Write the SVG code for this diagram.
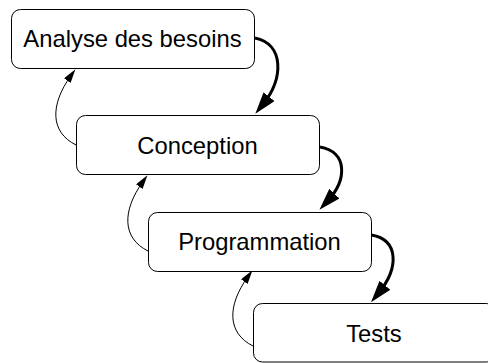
<svg xmlns="http://www.w3.org/2000/svg" width="488" height="363" viewBox="0 0 488 363">
<style>
.box{fill:#fff;stroke:#000;stroke-width:1}
.lbl{font-family:"Liberation Sans",Arial,sans-serif;font-size:23.8px;fill:#000;text-anchor:middle}
.thick{fill:none;stroke:#000;stroke-width:3}
.thin{fill:none;stroke:#000;stroke-width:1}
</style>
<defs>
<marker id="big" markerUnits="userSpaceOnUse" markerWidth="22" markerHeight="14" refX="10" refY="7" orient="auto" viewBox="0 0 22 14">
<path d="M0,0 L22,7 L0,14 z" fill="#000"/>
</marker>
<marker id="small" markerUnits="userSpaceOnUse" markerWidth="14" markerHeight="8" refX="6" refY="4" orient="auto" viewBox="0 0 14 8">
<path d="M0,0 L14,4 L0,8 z" fill="#000"/>
</marker>
</defs>
<g id="connectors">
<path class="thick" d="M255,38 C284,44 284,78 262.8,104.5" marker-end="url(#big)"/>
<path class="thick" d="M320,147 C348,152 347,180 327.6,201" marker-end="url(#big)"/>
<path class="thick" d="M371.5,235 C399,240 399,268 378.6,293" marker-end="url(#big)"/>
<path class="thin" d="M76,145 C50,132 50,105 70.8,75.8" marker-end="url(#small)"/>
<path class="thin" d="M148,251 C122,238 122,211 142.8,181.8" marker-end="url(#small)"/>
<path class="thin" d="M253,346 C227,333 227,306 247.8,276.8" marker-end="url(#small)"/>
</g>
<g id="analyse">
<rect class="box" x="11.5" y="9.5" width="243" height="59" rx="9"/>
<text class="lbl" x="132.5" y="47">Analyse des besoins</text>
</g>
<g id="conception">
<rect class="box" x="76.5" y="115.5" width="243" height="59" rx="9"/>
<text class="lbl" x="197.5" y="153.5">Conception</text>
</g>
<g id="programmation">
<rect class="box" x="148.5" y="212.5" width="223" height="59" rx="9"/>
<text class="lbl" x="259.5" y="250">Programmation</text>
</g>
<g id="tests">
<rect class="box" x="253.5" y="303.5" width="242" height="58.5" rx="9"/>
<text class="lbl" x="374" y="342">Tests</text>
</g>
</svg>
